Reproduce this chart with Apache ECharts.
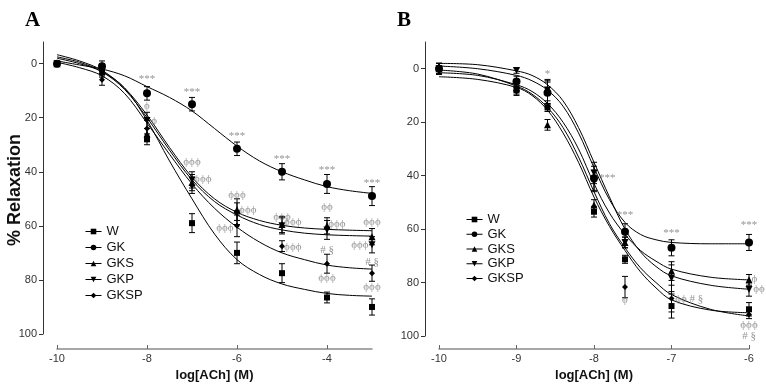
<!DOCTYPE html>
<html><head><meta charset="utf-8">
<script src="https://cdn.jsdelivr.net/npm/echarts@6/dist/echarts.min.js"></script>
<style>html,body{margin:0;padding:0;background:#fff}#c{width:766px;height:391px}</style>
</head><body><div id="c"></div>
<script>
// ---------- DATA ----------
const groups = ['W', 'GK', 'GKS', 'GKP', 'GKSP'];

// Panel A : measured points
const doseA = [-10, -9, -8, -7, -6, -5, -4, -3];
const A_W    = [0, 2, 28, 59, 70, 77.5, 86.5, 90];
const A_GK   = [0, 1, 11, 15, 31.5, 40, 44.5, 49];
const A_GKS  = [0, 2.5, 26, 44, 54, 59.5, 60, 64];
const A_GKP  = [0, 3, 21, 43, 55.5, 60, 61.5, 67];
const A_GKSP = [0, 6, 24, 45, 60, 67.5, 74, 77.5];
const A_W_err    = [0, 2, 2, 3.5, 4, 3.5, 2, 3];
const A_GK_err   = [0, 2, 2.5, 2.5, 2.5, 3, 3.5, 3.5];
const A_GKS_err  = [0, 2, 2, 3, 4, 3, 3, 3];
const A_GKP_err  = [0, 2, 3, 3, 4, 3, 3.5, 3];
const A_GKSP_err = [0, 2, 3, 3, 4, 2, 3.5, 3];

// Panel A : fitted curves
const fitXA = [-10, -9.5, -9, -8.5, -8, -7.5, -7, -6.5, -6, -5.5, -5, -4.5, -4, -3.5, -3];
const fitA_W    = [-2, 0, 3, 9, 21, 36, 50, 63, 72.5, 78, 81.5, 83.5, 85, 85.7, 86];
const fitA_GK   = [-1, 0.5, 2, 4.5, 8.5, 12.5, 17.5, 24, 30.5, 36, 40, 43, 45.5, 47, 48];
const fitA_GKS  = [-3.3, -1, 2.5, 9, 19, 31, 42, 50, 55, 58, 59.8, 60.8, 61.3, 61.6, 61.8];
const fitA_GKP  = [-2.5, -0.5, 3, 9.5, 20, 32, 43, 51, 56, 59.5, 61.5, 62.7, 63.3, 63.6, 63.8];
const fitA_GKSP = [-0.5, 1.5, 4.5, 11, 22, 33.5, 44.5, 53.5, 60.5, 66, 70, 72.5, 74.5, 75.5, 76];

// Panel B : measured points
const doseB = [-10, -9, -8.6, -8, -7.6, -7, -6];
const B_W    = [0, 8, 14.5, 53.5, 71.3, 88.8, 90];
const B_GK   = [0, 4.8, 9, 41, 61, 67, 65];
const B_GKS  = [0, 7, 21, 51, 65, 75.7, 79];
const B_GKP  = [0, 0.7, 8, 39, 65, 78.4, 82.6];
const B_GKSP = [0, 8.5, 9, 42, 81.7, 86, 92];
const B_W_err    = [2, 1.5, 1.5, 2, 1.5, 4.5, 2.5];
const B_GK_err   = [2, 2, 4.5, 4.5, 3, 3, 3];
const B_GKS_err  = [2, 1.5, 2, 2, 2, 3.5, 2];
const B_GKP_err  = [2, 1, 4, 4, 2, 5, 2.5];
const B_GKSP_err = [2, 1.5, 4, 4, 4, 5, 1.5];

// Panel B : fitted curves
const fitXB = [-10, -9.5, -9, -8.8, -8.6, -8.4, -8.2, -8, -7.8, -7.6, -7.4, -7.2, -7, -6.5, -6];
const fitB_W    = [3, 4, 7, 10, 15.5, 24, 35, 48, 59, 68, 76, 82, 86.5, 90.3, 91.3];
const fitB_GK   = [-1, 0, 2.5, 4.5, 8, 14, 24, 37, 49, 57.5, 62, 64, 65, 65.5, 65.5];
const fitB_GKS  = [1.5, 2.5, 6, 8.5, 13, 20, 30, 43, 54, 62, 68, 72, 75, 78, 79];
const fitB_GKP  = [-2, -1.5, 0.8, 2.5, 6, 12, 22, 35, 48, 60, 68.5, 74, 77.5, 81, 82.5];
const fitB_GKSP = [0.5, 2, 6.5, 9.5, 14.5, 22, 33, 46, 58, 67, 74.5, 80, 84.5, 90, 92.5];

// Tick labels
const yTicks = [0, 20, 40, 60, 80, 100];
const xTicksA = [-10, -8, -6, -4];
const xTicksB = [-10, -9, -8, -7, -6];

// Significance annotations [x, y, text]
const annotA = [
  [-8, 5.9, '***'], [-7, 10.7, '***'], [-6, 26.7, '***'], [-5, 35.2, '***'], [-4, 39.3, '***'], [-3, 44.1, '***'],
  [-8, 15.6, 'ϕ'], [-7.84, 21.1, 'ϕ'],
  [-7, 36.3, 'ϕϕϕ'], [-6.76, 42.6, 'ϕϕϕ'],
  [-6, 48.5, 'ϕϕϕ'], [-5.76, 54, 'ϕϕϕ'], [-6.27, 60.7, 'ϕϕϕ'],
  [-5, 56.7, 'ϕϕϕ'], [-4.76, 58.5, 'ϕϕϕ'], [-4.76, 67.8, 'ϕϕϕ'],
  [-4, 53, 'ϕϕ'], [-3.78, 59.3, 'ϕϕϕ'], [-4, 68.9, '# §'], [-4, 79.3, 'ϕϕϕ'],
  [-3, 58.5, 'ϕϕϕ'], [-3.27, 67, 'ϕϕϕ'], [-3, 73.3, '# §'], [-3, 82.6, 'ϕϕϕ']
];
const annotB = [
  [-8.6, 1.9, '*'], [-7.83, 41, '***'], [-7.6, 54.9, '***'], [-7.6, 86.6, 'ϕ'],
  [-7, 61.6, '***'], [-6.77, 86.2, 'ϕϕ # §'],
  [-6, 58.6, '***'], [-5.93, 78.7, 'ϕ'], [-5.87, 82.5, 'ϕϕ'], [-6, 95.9, 'ϕϕϕ'], [-6, 100, '# §']
];

// ---------- STYLE ----------
const symbols = ['rect', 'circle', 'triangle', 'triangle', 'diamond'];
const symbolRot = [0, 0, 0, 180, 0];
const symbolSz = [6, 8, 7, 7, 6];

const ptsA = [A_W, A_GK, A_GKS, A_GKP, A_GKSP];
const errA = [A_W_err, A_GK_err, A_GKS_err, A_GKP_err, A_GKSP_err];
const fitA = [fitA_W, fitA_GK, fitA_GKS, fitA_GKP, fitA_GKSP];
const ptsB = [B_W, B_GK, B_GKS, B_GKP, B_GKSP];
const errB = [B_W_err, B_GK_err, B_GKS_err, B_GKP_err, B_GKSP_err];
const fitB = [fitB_W, fitB_GK, fitB_GKS, fitB_GKP, fitB_GKSP];

const zip = (xs, ys) => xs.map((x, i) => [x, ys[i]]);

function errorSeries(ai, xs, m, e) {
  return {
    type: 'custom', xAxisIndex: ai, yAxisIndex: ai, silent: true, clip: false, z: 3,
    data: xs.map((x, i) => [x, m[i] - e[i], m[i] + e[i]]),
    encode: { x: 0, y: [1, 2] },
    renderItem: (params, api) => {
      const x = api.value(0);
      const lo = api.coord([x, api.value(1)]);
      const hi = api.coord([x, api.value(2)]);
      const w = 3;
      const st = { stroke: '#000', lineWidth: 1 };
      return { type: 'group', children: [
        { type: 'line', shape: { x1: lo[0], y1: lo[1], x2: hi[0], y2: hi[1] }, style: st },
        { type: 'line', shape: { x1: lo[0] - w, y1: lo[1], x2: lo[0] + w, y2: lo[1] }, style: st },
        { type: 'line', shape: { x1: hi[0] - w, y1: hi[1], x2: hi[0] + w, y2: hi[1] }, style: st }
      ]};
    }
  };
}

const series = [];
function addPanel(ai, doses, pts, errs, fitX, fits, annot) {
  groups.forEach((g, k) => {
    series.push({
      type: 'line', name: g + '_fit', xAxisIndex: ai, yAxisIndex: ai, smooth: 0.35,
      symbol: 'none', data: zip(fitX, fits[k]), silent: true, z: 2,
      lineStyle: { color: '#000', width: 1 }
    });
    series.push(errorSeries(ai, doses, pts[k], errs[k]));
    series.push({
      type: 'line', name: g, xAxisIndex: ai, yAxisIndex: ai, data: zip(doses, pts[k]),
      symbol: symbols[k], symbolRotate: symbolRot[k], symbolSize: symbolSz[k], showSymbol: true,
      lineStyle: { opacity: 0, width: 0 }, itemStyle: { color: '#000' }, z: 4, silent: true
    });
  });
  series.push({
    type: 'scatter', xAxisIndex: ai, yAxisIndex: ai, symbolSize: 0, clip: false, silent: true, z: 5,
    data: annot,
    label: { show: true, position: 'inside', formatter: p => p.data[2],
      fontFamily: 'Liberation Serif', fontSize: 11, color: '#777' }
  });
}
addPanel(0, doseA, ptsA, errA, fitXA, fitA, annotA);
addPanel(1, doseB, ptsB, errB, fitXB, fitB, annotB);

function xAxis(gi, min, max, ticks, offset) {
  return {
    type: 'value', gridIndex: gi, min, max, offset, position: 'bottom',
    name: 'log[ACh] (M)', nameLocation: 'middle', nameGap: 20,
    nameTextStyle: { fontFamily: 'Liberation Sans', fontWeight: 'bold', fontSize: 13, color: '#111', verticalAlign: 'top' },
    axisLine: { onZero: false, lineStyle: { color: '#8a8a8a', width: 1.5 } },
    axisTick: { show: true, inside: true, length: 4, customValues: ticks, lineStyle: { color: '#666' } },
    axisLabel: { customValues: ticks, margin: 4, fontFamily: 'Liberation Sans', fontSize: 11, color: '#333' },
    splitLine: { show: false }
  };
}
function yAxis(gi, min) {
  return {
    type: 'value', gridIndex: gi, min, max: 100, inverse: true, offset: 14,
    axisLine: { show: true, onZero: false, lineStyle: { color: '#333', width: 1 } },
    axisTick: { show: true, length: 4, customValues: yTicks, lineStyle: { color: '#333' } },
    axisLabel: { customValues: yTicks, margin: 6, fontFamily: 'Liberation Sans', fontSize: 11, color: '#333' },
    splitLine: { show: false }
  };
}

const legendCommon = {
  orient: 'vertical', data: groups, itemWidth: 16, itemHeight: 7, selectedMode: false,
  textStyle: { fontFamily: 'Liberation Sans', fontSize: 13, color: '#111' },
  lineStyle: { color: '#000', width: 1, opacity: 1, type: 'solid' },
  itemStyle: { color: '#000' }
};

const chart = echarts.init(document.getElementById('c'), null, { renderer: 'canvas' });
chart.setOption({
  animation: false,
  backgroundColor: '#fff',
  grid: [
    { left: 57, top: 42, width: 315, height: 292 },
    { left: 439, top: 42, width: 310, height: 294 }
  ],
  xAxis: [xAxis(0, -10, -3, xTicksA, 15), xAxis(1, -10, -6, xTicksB, 13)],
  yAxis: [yAxis(0, -8), yAxis(1, -10)],
  legend: [
    Object.assign({ left: 80, top: 220, itemGap: 3 }, legendCommon),
    Object.assign({ left: 461, top: 208, itemGap: 1.75 }, legendCommon)
  ],
  graphic: [
    { type: 'text', left: 25, top: 10, style: { text: 'A', font: 'bold 21px "Liberation Serif"', fill: '#000' } },
    { type: 'text', left: 397, top: 10, style: { text: 'B', font: 'bold 21px "Liberation Serif"', fill: '#000' } },
    { type: 'text', x: 15, y: 190, rotation: Math.PI / 2,
      style: { text: '% Relaxation', font: 'bold 18px "Liberation Sans"', fill: '#111', align: 'center', verticalAlign: 'middle' } }
  ],
  series
});
</script></body></html>
